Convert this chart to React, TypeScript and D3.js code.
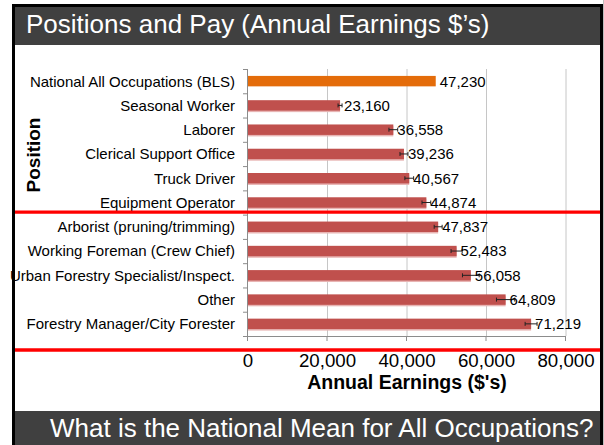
import React from "react";
import * as d3 from "d3";

const categories = [
  "National All Occupations (BLS)",
  "Seasonal Worker",
  "Laborer",
  "Clerical Support Office",
  "Truck Driver",
  "Equipment Operator",
  "Arborist (pruning/trimming)",
  "Working Foreman (Crew Chief)",
  "Urban Forestry Specialist/Inspect.",
  "Other",
  "Forestry Manager/City Forester",
];
const values = [47230, 23160, 36558, 39236, 40567, 44874, 47837, 52483, 56058, 64809, 71219];
const errors = [0, 500, 1100, 1000, 1100, 1100, 1000, 1400, 2100, 2300, 1500];
const xTicks = [0, 20000, 40000, 60000, 80000];
const title = "Positions and Pay (Annual Earnings $\u2019s)";
const footer = "What is the National Mean for All Occupations?";
const xTitle = "Annual Earnings ($'s)";
const yTitle = "Position";

const W = 604;
const H = 445;
const FONT = "'Liberation Sans', Arial, sans-serif";

export default function App() {
  const x = d3.scaleLinear().domain([0, 80000]).range([248, 566]);
  const y = d3.scaleBand().domain(categories).range([69, 336]).paddingInner(0).paddingOuter(0);
  const bw = y.bandwidth();
  const barH = bw * 0.43;
  const fmt = d3.format(",");
  const plotTop = 69;
  const plotBottom = 336;
  const sep1 = (y(categories[6]) as number) - 2.5;
  const sep2 = plotBottom + 14;

  return (
    <svg
      width={W}
      height={H}
      style={{ position: "absolute", left: 0, top: 0, display: "block" }}
      fontFamily={FONT}
    >
      <rect x={0} y={0} width={W} height={H} fill="#ffffff" />
      {/* frame */}
      <rect x={12} y={4} width={591} height={H} fill="#000000" />
      <rect x={603} y={0} width={1} height={H} fill="#bdbdbd" />
      <rect x={15} y={7} width={585} height={H} fill="#ffffff" />
      {/* header */}
      <rect x={15} y={7} width={585} height={38} fill="#404040" />
      <text x={26} y={33} fill="#ffffff" fontSize={26}>
        {title}
      </text>

      {/* gridlines */}
      {xTicks.slice(1).map((t) => (
        <line key={"g" + t} x1={x(t)} x2={x(t)} y1={plotTop} y2={plotBottom} stroke="#c6c6c6" strokeWidth={1} />
      ))}
      {/* x axis line & ticks */}
      <line x1={x(0)} x2={x(80000)} y1={plotBottom + 0.5} y2={plotBottom + 0.5} stroke="#8c8c8c" />
      {xTicks.map((t) => (
        <line key={"t" + t} x1={x(t) - 0.5} x2={x(t) - 0.5} y1={plotBottom} y2={plotBottom + 5} stroke="#8c8c8c" />
      ))}
      {/* y axis line & ticks */}
      <line x1={x(0) - 0.5} x2={x(0) - 0.5} y1={plotTop} y2={plotBottom + 5} stroke="#8c8c8c" />
      {categories.map((c) => (
        <line key={"yt" + c} x1={x(0) - 5} x2={x(0)} y1={(y(c) as number) + 0.5} y2={(y(c) as number) + 0.5} stroke="#8c8c8c" />
      ))}
      <line x1={x(0) - 5} x2={x(0)} y1={plotBottom + 0.5} y2={plotBottom + 0.5} stroke="#8c8c8c" />

      {/* bars */}
      {categories.map((c, i) => {
        const cy = (y(c) as number) + bw / 2;
        const v = values[i];
        const e = errors[i];
        const color = i === 0 ? "#e46c0a" : "#c0504d";
        return (
          <g key={"b" + c}>
            {i !== 0 && (
              <rect x={x(0)} y={cy - barH / 2 + 1.5} width={x(v) - x(0)} height={barH} fill="#e8b4b3" />
            )}
            <rect x={x(0)} y={cy - barH / 2} width={x(v) - x(0)} height={barH} fill={color} />
            {e > 0 && (
              <g stroke="#222" strokeWidth={1}>
                <line x1={x(v - e)} x2={x(v + e)} y1={cy} y2={cy} />
                <line x1={x(v - e)} x2={x(v - e)} y1={cy - 2} y2={cy + 2} />
                <line x1={x(v + e)} x2={x(v + e)} y1={cy - 2} y2={cy + 2} />
              </g>
            )}
            <text x={x(v) + 4} y={cy} dy="0.36em" fontSize={15} fill="#000">
              {fmt(v)}
            </text>
            <text x={235} y={cy} dy="0.36em" fontSize={15} fill="#000" textAnchor="end">
              {c}
            </text>
          </g>
        );
      })}

      {/* x tick labels */}
      {xTicks.map((t) => (
        <text key={"xl" + t} x={x(t)} y={367} fontSize={18.7} textAnchor="middle" fill="#000">
          {fmt(t)}
        </text>
      ))}
      <text x={(x(0) + x(80000)) / 2} y={389} fontSize={19.5} fontWeight="bold" textAnchor="middle" fill="#000">
        {xTitle}
      </text>
      <text
        transform={`translate(40, 155) rotate(-90)`}
        fontSize={19}
        fontWeight="bold"
        textAnchor="middle"
        fill="#000"
      >
        {yTitle}
      </text>

      {/* red separators */}
      <line x1={15} x2={600} y1={sep1} y2={sep1} stroke="#ff0000" strokeWidth={3.3} />
      <line x1={15} x2={600} y1={sep2} y2={sep2} stroke="#ff0000" strokeWidth={3.3} />

      {/* footer */}
      <rect x={15} y={411} width={585} height={H - 411} fill="#404040" />
      <text x={50} y={437} fill="#ffffff" fontSize={26}>
        {footer}
      </text>

      {/* re-draw frame edges on top */}
      <rect x={12} y={4} width={3} height={H} fill="#000" />
      <rect x={600} y={4} width={3} height={H} fill="#000" />
      <rect x={12} y={4} width={591} height={3} fill="#000" />
    </svg>
  );
}
